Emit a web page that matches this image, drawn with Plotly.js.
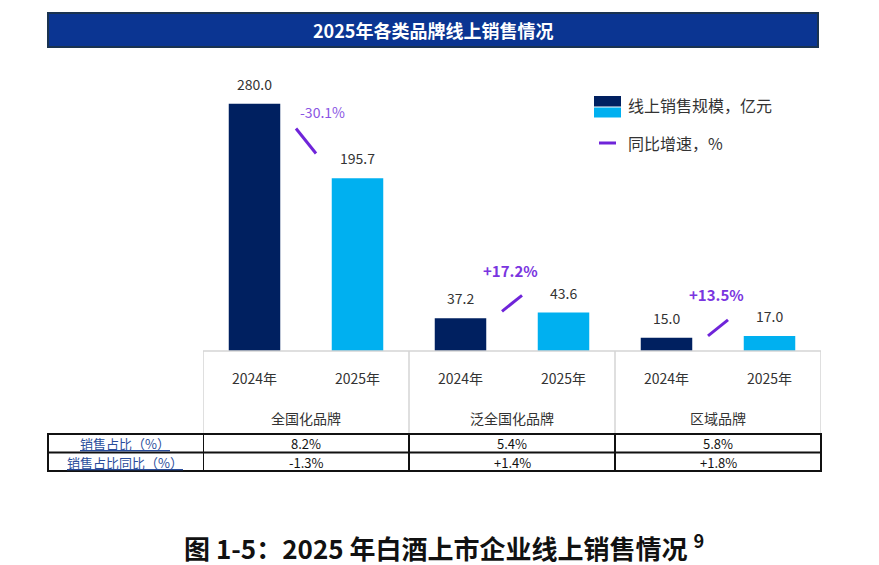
<!DOCTYPE html>
<html>
<head>
<meta charset="utf-8">
<script src="https://cdn.plot.ly/plotly-3.0.1.min.js"></script>
<style>html,body{margin:0;padding:0;background:#fff;}#chart{width:879px;height:565px;}</style>
</head>
<body>
<div id="chart"></div>
<script>
// ---------------- data ----------------
const chartTitle = '2025年各类品牌线上销售情况';
const caption = '图 1-5：2025 年白酒上市企业线上销售情况';
const captionNote = '9';
const groups = ['全国化品牌', '泛全国化品牌', '区域品牌'];
const years = ['2024年', '2025年'];
const sales2024 = [280.0, 37.2, 15.0];
const sales2025 = [195.7, 43.6, 17.0];
const growthPct = [-30.1, 17.2, 13.5];
const legendBar = '线上销售规模，亿元';
const legendLine = '同比增速，%';
const rowLabels = ['销售占比（%）', '销售占比同比（%）'];
const shareRow = ['8.2%', '5.4%', '5.8%'];
const shareYoYRow = ['-1.3%', '+1.4%', '+1.8%'];

// ---------------- style ----------------
const W = 879, H = 565;
const FONT = '"Noto Sans CJK SC", "Noto Sans", sans-serif';
const NAVY = '#002060', CYAN = '#00b0f0', PURPLE = '#6f24d9';
const PX_PER_UNIT = 0.883;
const baseY = 351;
const slashLift = [0, 12, 9];           // pixel lift of each growth slash
const px = x => x / W;
const py = y => 1 - y / H;

const x2024 = groups.map((_, g) => 2 * g);
const x2025 = groups.map((_, g) => 2 * g + 1);
const xGroup = groups.map((_, g) => 2 * g + 0.5);

const traces = [
  {type: 'bar', x: x2024, y: sales2024, width: 0.5, marker: {color: NAVY}, hoverinfo: 'skip'},
  {type: 'bar', x: x2025, y: sales2025, width: 0.5, marker: {color: CYAN}, hoverinfo: 'skip'}
];

const shapes = [];
const annotations = [];

// title bar
shapes.push({type: 'rect', xref: 'paper', yref: 'paper', x0: px(48), x1: px(818), y0: py(47), y1: py(13),
  fillcolor: '#0b3592', line: {color: '#1a3350', width: 2}});
annotations.push({xref: 'paper', yref: 'paper', x: px(433), y: py(30), text: '<b>' + chartTitle + '</b>',
  showarrow: false, xanchor: 'center', yanchor: 'middle', font: {family: FONT, size: 18, color: '#ffffff'}});

// gray frame under the bars
shapes.push({type: 'line', xref: 'x', yref: 'paper', x0: -0.5, x1: 5.5, y0: py(baseY), y1: py(baseY),
  line: {color: '#d4d4d4', width: 1.5}});
[-0.5, 1.5, 3.5, 5.5].forEach(v => shapes.push({type: 'line', xref: 'x', yref: 'paper', x0: v, x1: v,
  y0: py(baseY), y1: py(434), line: {color: '#d4d4d4', width: 1.5}}));

// table
shapes.push({type: 'rect', xref: 'paper', yref: 'paper', x0: px(48), x1: px(821), y0: py(471), y1: py(434),
  line: {color: '#111', width: 2}});
shapes.push({type: 'line', xref: 'paper', yref: 'paper', x0: px(48), x1: px(821), y0: py(452.5), y1: py(452.5),
  line: {color: '#111', width: 2}});
[-0.5, 1.5, 3.5].forEach(v => shapes.push({type: 'line', xref: 'x', yref: 'paper', x0: v, x1: v,
  y0: py(434), y1: py(471), line: {color: '#111', width: 2}}));

const rowY = [443.5, 462];
rowLabels.forEach((t, r) => annotations.push({xref: 'paper', yref: 'paper', x: px(125), y: py(rowY[r]),
  text: '<span style="text-decoration:underline">' + t + '</span>', showarrow: false,
  xanchor: 'center', yanchor: 'middle', font: {family: FONT, size: 13, color: '#2a4d9b'}}));
[shareRow, shareYoYRow].forEach((row, r) => row.forEach((t, g) => annotations.push({xref: 'x', yref: 'paper',
  x: xGroup[g], y: py(rowY[r]), text: t, showarrow: false, xanchor: 'center', yanchor: 'middle',
  font: {family: FONT, size: 13, color: '#111'}})));

// year & group labels
groups.forEach((gname, g) => {
  [x2024[g], x2025[g]].forEach((xv, k) => annotations.push({xref: 'x', yref: 'paper', x: xv, y: py(378),
    text: years[k], showarrow: false, xanchor: 'center', yanchor: 'middle',
    font: {family: FONT, size: 14, color: '#333'}}));
  annotations.push({xref: 'x', yref: 'paper', x: xGroup[g], y: py(418), text: gname, showarrow: false,
    xanchor: 'center', yanchor: 'middle', font: {family: FONT, size: 14, color: '#333'}});
});

// value labels
[[x2024, sales2024], [x2025, sales2025]].forEach(([xs, vs]) => vs.forEach((v, i) => annotations.push({
  xref: 'x', yref: 'y', x: xs[i], y: v, yshift: 20, text: v.toFixed(1), showarrow: false,
  xanchor: 'center', yanchor: 'middle', font: {family: FONT, size: 14, color: '#333'}})));

// growth slashes & labels
growthPct.forEach((gv, g) => {
  const mean = (sales2024[g] + sales2025[g]) / 2;
  const neg = gv < 0;
  const half = neg ? 12.5 : 8;
  shapes.push({type: 'line', xref: 'x', xsizemode: 'pixel', xanchor: xGroup[g], x0: -10, x1: 10,
    yref: 'y', ysizemode: 'pixel', yanchor: mean,
    y0: slashLift[g] + (neg ? half : -half), y1: slashLift[g] + (neg ? -half : half),
    line: {color: PURPLE, width: 3}});
  const label = (gv > 0 ? '+' : '') + gv.toFixed(1) + '%';
  annotations.push({xref: 'x', yref: 'y', x: xGroup[g], y: mean,
    xshift: neg ? 16 : -2, yshift: slashLift[g] + (neg ? 29 : 33),
    text: neg ? label : '<b>' + label + '</b>', showarrow: false, xanchor: 'center', yanchor: 'middle',
    font: {family: FONT, size: neg ? 14 : 15, color: neg ? '#8a55e3' : '#7a35e0'}});
});

// custom legend
shapes.push({type: 'rect', xref: 'paper', yref: 'paper', x0: px(594), x1: px(621), y0: py(106.5), y1: py(96),
  fillcolor: NAVY, line: {width: 0}});
shapes.push({type: 'rect', xref: 'paper', yref: 'paper', x0: px(594), x1: px(621), y0: py(117.5), y1: py(107.5),
  fillcolor: CYAN, line: {width: 0}});
annotations.push({xref: 'paper', yref: 'paper', x: px(626), y: py(105), text: legendBar, showarrow: false,
  xanchor: 'left', yanchor: 'middle', font: {family: FONT, size: 16, color: '#333'}});
shapes.push({type: 'line', xref: 'paper', yref: 'paper', x0: px(599), x1: px(616), y0: py(143), y1: py(143),
  line: {color: PURPLE, width: 3}});
annotations.push({xref: 'paper', yref: 'paper', x: px(626), y: py(143), text: legendLine, showarrow: false,
  xanchor: 'left', yanchor: 'middle', font: {family: FONT, size: 16, color: '#333'}});

// caption
annotations.push({xref: 'paper', yref: 'paper', x: px(182), y: py(546),
  text: '<b>' + caption + ' <sup>' + captionNote + '</sup></b>', showarrow: false,
  xanchor: 'left', yanchor: 'middle', font: {family: FONT, size: 26, color: '#111'}});

const layout = {
  width: W, height: H,
  margin: {l: 0, r: 0, t: 0, b: 0},
  paper_bgcolor: '#fff', plot_bgcolor: '#fff',
  showlegend: false, barmode: 'overlay', hovermode: false,
  xaxis: {domain: [px(203), px(821)], range: [-0.5, 5.5], visible: false, fixedrange: true},
  yaxis: {domain: [py(baseY), 1], range: [0, baseY / PX_PER_UNIT], visible: false, fixedrange: true},
  shapes: shapes, annotations: annotations
};

Plotly.newPlot('chart', traces, layout, {staticPlot: true, displayModeBar: false});
</script>
</body>
</html>
